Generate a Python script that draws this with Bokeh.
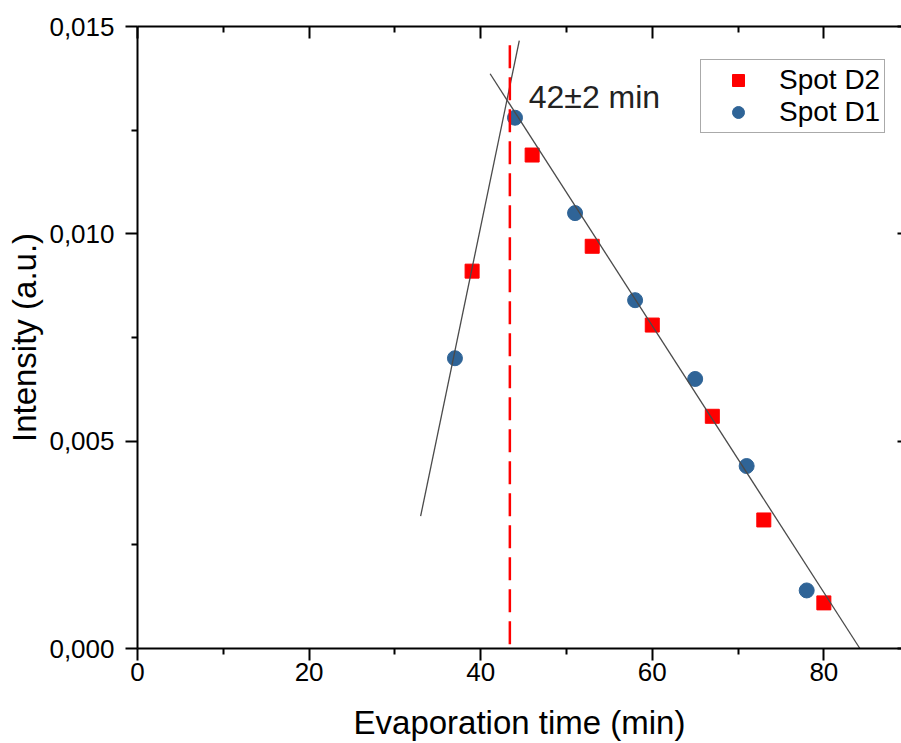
from bokeh.plotting import figure
from bokeh.models import (LinearAxis, FixedTicker, CustomJSTickFormatter, Range1d,
                          Label, Legend, LegendItem)
from bokeh.embed import file_html
from bokeh.resources import INLINE

# ---- data ----
d1_time = [37, 44, 51, 58, 65, 71, 78]
d1_int = [0.0070, 0.0128, 0.0105, 0.0084, 0.0065, 0.0044, 0.0014]
d2_time = [39, 46, 53, 60, 67, 73, 80]
d2_int = [0.0091, 0.0119, 0.0097, 0.0078, 0.0056, 0.0031, 0.0011]

rise_fit_x = [33.0, 44.5]
rise_fit_y = [0.00319, 0.01466]
fall_fit_x = [41.1, 84.2]
fall_fit_y = [0.01386, 0.0]

onset_x = [43.4, 43.4]
onset_y = [0.01455, 0.0]
onset_text = "42\u00b12 min"
onset_text_x = 45.6
onset_text_y = 0.01330

x_ticks = [0, 20, 40, 60, 80]
x_minor = [10, 30, 50, 70]
y_ticks = [0.0, 0.005, 0.010, 0.015]
y_minor = [0.0025, 0.0075, 0.0125]

FONT = "Liberation Sans"
BLUE = "#2F6497"
RED = "#FF0000"

p = figure(width=901, height=743, output_backend="svg", toolbar_location=None,
           x_range=Range1d(0, 89.05), y_range=Range1d(0, 0.015),
           min_border_left=137, min_border_right=0, min_border_top=26,
           min_border_bottom=95)
p.outline_line_color = None
p.xgrid.visible = False
p.ygrid.visible = False
p.background_fill_color = "white"


def base_style(ax):
    ax.axis_line_color = "black"
    ax.axis_line_width = 2
    ax.major_tick_line_color = "black"
    ax.major_tick_line_width = 2
    ax.minor_tick_line_color = "black"
    ax.minor_tick_line_width = 2
    ax.major_label_text_font = FONT
    ax.major_label_text_font_size = "26px"
    ax.major_label_text_color = "black"
    ax.axis_label_text_font = FONT
    ax.axis_label_text_font_size = "33px"
    ax.axis_label_text_font_style = "normal"
    ax.axis_label_text_color = "black"


fmt_y = CustomJSTickFormatter(code="return tick.toFixed(3).replace('.', ',');")

# left axis
ya = p.yaxis[0]
base_style(ya)
ya.ticker = FixedTicker(ticks=y_ticks, minor_ticks=y_minor)
ya.formatter = fmt_y
ya.major_tick_out = 12
ya.major_tick_in = 0
ya.minor_tick_out = 6
ya.minor_tick_in = 0
ya.major_label_standoff = 11
ya.axis_label = "Intensity (a.u.)"
ya.axis_label_standoff = 3

# bottom axis
xa = p.xaxis[0]
base_style(xa)
xa.ticker = FixedTicker(ticks=x_ticks, minor_ticks=x_minor)
xa.major_tick_out = 12
xa.major_tick_in = 0
xa.minor_tick_out = 6
xa.minor_tick_in = 0
xa.major_label_standoff = 2
xa.axis_label = "Evaporation time (min)"
xa.axis_label_standoff = 20

# top mirror axis: no major ticks (so no labels), tick marks drawn as minor ticks
top_major = LinearAxis(ticker=FixedTicker(ticks=[], minor_ticks=x_ticks))
base_style(top_major)
top_major.major_tick_in = 0
top_major.major_tick_out = 0
top_major.minor_tick_in = 12
top_major.minor_tick_out = 0
p.add_layout(top_major, "above")

top_minor = LinearAxis(ticker=FixedTicker(ticks=[], minor_ticks=x_minor))
base_style(top_minor)
top_minor.axis_line_color = None
top_minor.major_tick_in = 0
top_minor.major_tick_out = 0
top_minor.minor_tick_in = 6
top_minor.minor_tick_out = 0
p.add_layout(top_minor, "above")

# right mirror axis: only short stubs of the inward ticks are visible
right = LinearAxis(ticker=FixedTicker(ticks=[], minor_ticks=y_ticks))
base_style(right)
right.axis_line_color = None
right.major_tick_in = 0
right.major_tick_out = 0
right.minor_tick_in = 4
right.minor_tick_out = 0
p.add_layout(right, "right")

# data markers
r2 = p.scatter(d2_time, d2_int, marker="square", size=14, color=RED)
r1 = p.scatter(d1_time, d1_int, marker="circle", size=15, color=BLUE)

# fit lines
p.line(rise_fit_x, rise_fit_y, line_color="#4a4a4a", line_width=1.3)
p.line(fall_fit_x, fall_fit_y, line_color="#4a4a4a", line_width=1.3)

# onset marker
p.line(onset_x, onset_y, line_color=RED, line_width=2.5, line_dash="23 9")

p.add_layout(Label(x=onset_text_x, y=onset_text_y, text=onset_text,
                   text_font=FONT, text_font_size="32px", text_color="#222222",
                   text_baseline="middle", text_align="left"))

legend = Legend(items=[LegendItem(label="Spot D2", renderers=[r2]),
                       LegendItem(label="Spot D1", renderers=[r1])],
                location=(563, 515))
legend.label_text_font = FONT
legend.label_text_font_size = "28px"
legend.label_text_color = "black"
legend.glyph_width = 66
legend.glyph_height = 30
legend.label_height = 30
legend.label_width = 98
legend.label_standoff = 8
legend.padding = 4
legend.spacing = 0
legend.margin = 0
legend.border_line_color = "#555555"
legend.border_line_width = 1.5
legend.background_fill_color = "white"
legend.background_fill_alpha = 1.0
p.add_layout(legend, "center")

open("out.html", "w").write(file_html(p, INLINE))
